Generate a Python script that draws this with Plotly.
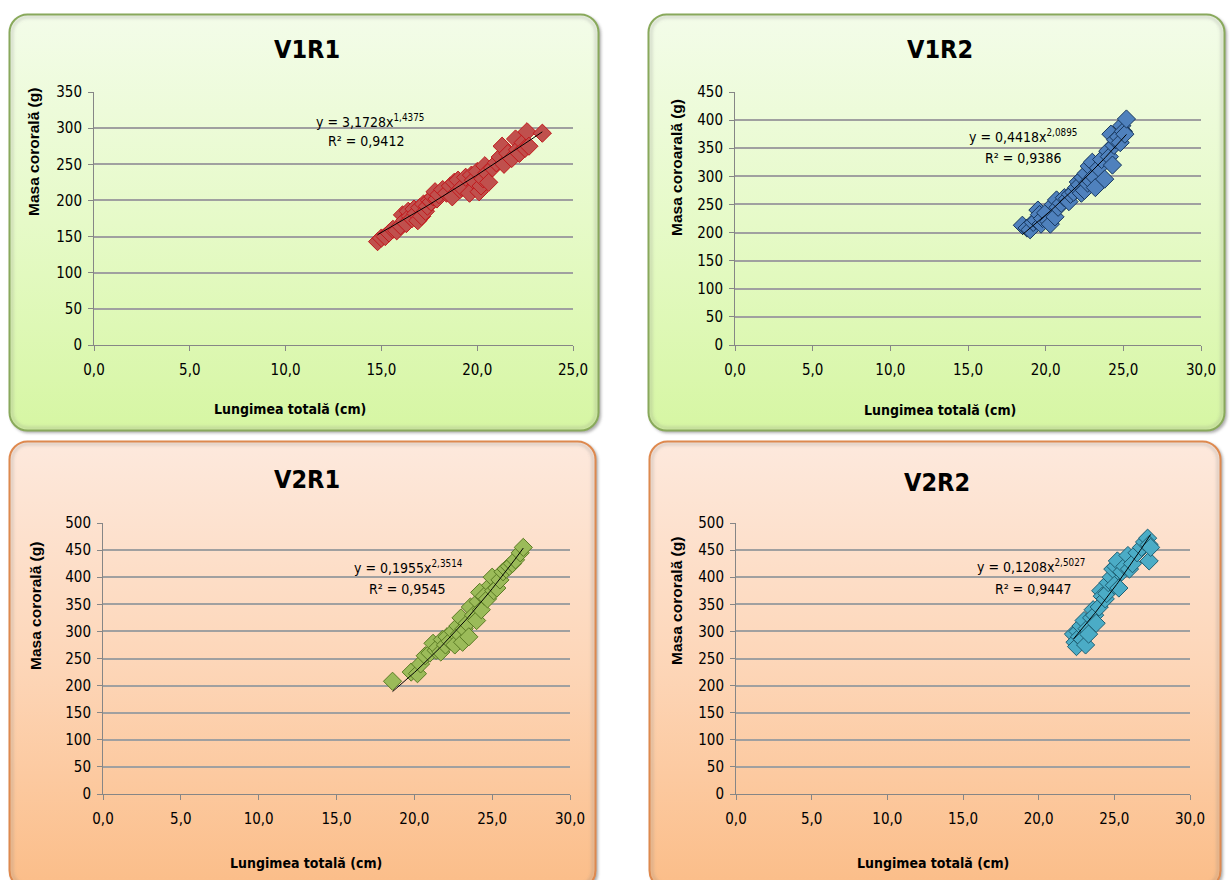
import base64
import numpy as np
import plotly.graph_objects as go

W, H = 1231, 880

# ---------------- data ----------------
titles = ["V1R1", "V1R2", "V2R1", "V2R2"]
ytitles = ["Masa cororală (g)", "Masa coroarală (g)", "Masa cororală (g)", "Masa cororală (g)"]
xtitle = "Lungimea totală (cm)"

v1r1_x = [14.8, 15.0, 15.2, 15.4, 15.6, 15.8, 16.0, 16.1, 16.2, 16.3, 16.4, 16.5, 16.6, 16.7, 16.8,
          16.9, 17.0, 17.1, 17.2, 17.3, 17.4, 17.5, 17.6, 17.7, 17.8, 17.9, 18.0, 18.2, 18.4, 18.6,
          18.7, 18.8, 19.0, 19.1, 19.2, 19.4, 19.6, 19.7, 19.8, 20.0, 20.1, 20.2, 20.3, 20.4, 20.5,
          20.6, 20.8, 21.0, 21.2, 21.3, 21.4, 21.6, 21.8, 22.0, 22.1, 22.2, 22.4, 22.5, 22.6, 22.7, 23.4]
v1r1_y = [143, 148, 150, 155, 160, 158, 165, 180, 172, 168, 185, 178, 175, 188, 182,
          172, 190, 178, 195, 185, 192, 200, 198, 205, 212, 202, 208, 215, 210, 220,
          205, 225, 228, 215, 218, 232, 210, 235, 228, 240, 212, 220, 230, 248, 238,
          225, 245, 252, 260, 275, 250, 265, 258, 285, 270, 265, 280, 272, 295, 275, 293]

v1r2_x = [18.5, 18.8, 19.0, 19.2, 19.4, 19.5, 19.6, 19.7, 19.8, 20.0, 20.2, 20.3, 20.5, 20.6, 20.7,
          20.8, 21.0, 21.2, 21.4, 21.5, 21.6, 21.8, 22.0, 22.1, 22.2, 22.3, 22.4, 22.5, 22.6, 22.7,
          22.8, 22.9, 23.0, 23.1, 23.2, 23.4, 23.6, 23.8, 24.0, 24.1, 24.2, 24.3, 24.4, 24.5, 24.7,
          24.8, 24.9, 25.0, 25.1, 25.2]
v1r2_y = [213, 208, 205, 218, 222, 240, 232, 215, 225, 235, 220, 215, 250, 228, 258,
          245, 252, 262, 260, 255, 268, 272, 280, 290, 285, 270, 298, 275, 305, 288,
          318, 292, 325, 300, 280, 315, 330, 295, 345, 335, 375, 320, 355, 365, 370,
          360, 390, 380, 375, 402]

v2r1_x = [18.6, 19.8, 20.2, 20.4, 20.7, 21.0, 21.2, 21.4, 21.5, 21.7, 21.8, 22.0, 22.1, 22.3, 22.5,
          22.6, 22.8, 22.9, 23.0, 23.1, 23.2, 23.4, 23.5, 23.6, 23.8, 24.0, 24.1, 24.2, 24.3, 24.5,
          24.7, 24.9, 25.0, 25.1, 25.3, 25.5, 25.7, 25.9, 26.1, 26.3, 26.5, 26.8, 27.0]
v2r1_y = [208, 225, 222, 240, 255, 260, 278, 265, 270, 262, 285, 275, 290, 282, 300,
          275, 310, 295, 325, 280, 305, 315, 290, 345, 330, 320, 355, 372, 340, 365,
          360, 385, 400, 375, 380, 395, 410, 415, 420, 425, 432, 445, 455]

v2r2_x = [22.3, 22.4, 22.5, 22.6, 22.7, 22.8, 22.9, 23.0, 23.1, 23.2, 23.3, 23.5, 23.6, 23.7, 23.8,
          24.0, 24.1, 24.2, 24.4, 24.5, 24.6, 24.8, 24.9, 25.0, 25.1, 25.2, 25.3, 25.5, 25.7, 25.9,
          26.0, 26.2, 26.5, 26.8, 27.0, 27.2, 27.3, 27.3, 27.4]
v2r2_y = [295, 280, 272, 300, 290, 310, 285, 320, 275, 305, 295, 325, 340, 330, 315,
          345, 375, 365, 360, 370, 390, 400, 415, 385, 420, 430, 380, 410, 420, 440,
          415, 425, 445, 455, 465, 472, 460, 430, 455]

# power trendline coefficients shown on the chart: y = a * x^b
coef_a = [3.1728, 0.4418, 0.1955, 0.1208]
coef_b = [1.4375, 2.0895, 2.3514, 2.5027]
eq_text = ["y = 3,1728x<sup>1,4375</sup>", "y = 0,4418x<sup>2,0895</sup>",
           "y = 0,1955x<sup>2,3514</sup>", "y = 0,1208x<sup>2,5027</sup>"]
r2_text = ["R² = 0,9412", "R² = 0,9386", "R² = 0,9545", "R² = 0,9447"]

x_max = [25, 30, 30, 30]
y_max = [350, 450, 500, 500]
xtick_vals = [[0, 5, 10, 15, 20, 25], [0, 5, 10, 15, 20, 25, 30], [0, 5, 10, 15, 20, 25, 30], [0, 5, 10, 15, 20, 25, 30]]
xtick_text = [["0,0", "5,0", "10,0", "15,0", "20,0", "25,0"]] + [["0,0", "5,0", "10,0", "15,0", "20,0", "25,0", "30,0"]] * 3

series_x = [v1r1_x, v1r2_x, v2r1_x, v2r2_x]
series_y = [v1r1_y, v1r2_y, v2r1_y, v2r2_y]

# ---------------- styling ----------------
fill_c = ["#c0504d", "#4f81bd", "#9bbb59", "#4bacc6"]
line_c = ["#c0181c", "#17375e", "#5a7a24", "#1f5f73"]

NARROW = "DejaVu Sans Condensed, Liberation Sans, sans-serif"
BOLDW = "Liberation Sans, Arial, sans-serif"

# plot areas in pixels: (left, right, top, bottom)
areas = [(94, 573, 92, 345), (735, 1201, 92, 345), (103, 570, 523, 794), (736, 1190, 523, 794)]
title_pos = [(307, 50), (940, 50), (307, 480), (937, 482)]
ytitle_pos = [(33, 152), (677, 167), (35, 606), (676, 601)]
xtitle_pos = [(290, 409), (940, 410), (306, 863), (933, 863)]
eq_pos = [(370, 121), (1023, 136), (408, 567), (1031, 566)]
r2_pos = [(366, 141), (1023, 158), (407, 589), (1033, 589)]

# panels: (left, top, width, height, kind)
panels = [(8, 13, 592, 419, "g"), (647, 13, 579, 419, "g"), (8, 440, 589, 450, "o"), (648, 440, 574, 450, "o")]
pal = {"g": ("#f3fce9", "#e6fac8", "#d6f6a3", "#8aac5a"),
       "o": ("#fde9dd", "#fdd6b8", "#fbbd88", "#e48a4c")}


def panel_svg(w, h, kind):
    top, mid, bot, stroke = pal[kind]
    svg = f'''<svg xmlns="http://www.w3.org/2000/svg" width="{w+6}" height="{h+6}" viewBox="0 0 {w+6} {h+6}">
<defs>
<linearGradient id="g" x1="0" y1="0" x2="0" y2="1">
<stop offset="0" stop-color="{top}"/><stop offset="0.5" stop-color="{mid}"/><stop offset="1" stop-color="{bot}"/>
</linearGradient>
<filter id="s" x="-5%" y="-5%" width="110%" height="110%"><feGaussianBlur stdDeviation="1.6"/></filter>
</defs>
<rect x="3" y="3" width="{w-2}" height="{h-2}" rx="18" fill="#6b6b6b" opacity="0.55" filter="url(#s)"/>
<rect x="1.5" y="1.5" width="{w-3}" height="{h-3}" rx="18" fill="url(#g)" stroke="{stroke}" stroke-width="2"/>
<rect x="4" y="4" width="{w-8}" height="{h-8}" rx="16" fill="none" stroke="#777" stroke-opacity="0.25" stroke-width="3" filter="url(#s)"/>
</svg>'''
    return "data:image/svg+xml;base64," + base64.b64encode(svg.encode()).decode()


fig = go.Figure()
layout = dict(width=W, height=H, margin=dict(l=0, r=0, t=0, b=0, pad=0, autoexpand=False),
              paper_bgcolor="white", plot_bgcolor="white", showlegend=False,
              images=[], annotations=[])

for i in range(4):
    sfx = "" if i == 0 else str(i + 1)
    xa, ya = "x" + sfx, "y" + sfx
    l, r, t, b = areas[i]
    xs = np.array(series_x[i], dtype=float)
    ys = np.array(series_y[i], dtype=float)

    # trendline from the chart's stated coefficients
    tx = np.linspace(xs.min(), xs.max(), 60)
    ty = coef_a[i] * tx ** coef_b[i]

    fig.add_trace(go.Scatter(x=xs, y=ys, mode="markers", xaxis=xa, yaxis=ya,
                             marker=dict(symbol="diamond", size=14, color=fill_c[i],
                                         line=dict(color=line_c[i], width=1)),
                             hoverinfo="x+y"))
    fig.add_trace(go.Scatter(x=tx, y=ty, mode="lines", xaxis=xa, yaxis=ya,
                             line=dict(color="black", width=1), hoverinfo="skip"))

    axis_common = dict(showline=True, linecolor="#868686", linewidth=1, ticks="outside",
                       ticklen=5, tickcolor="#868686", zeroline=False, automargin=False,
                       tickfont=dict(family=NARROW, size=15, color="#000"))
    layout["xaxis" + sfx] = dict(axis_common, domain=[l / W, r / W], anchor=ya,
                                 range=[0, x_max[i]], tickvals=xtick_vals[i], ticktext=xtick_text[i],
                                 showgrid=False, ticklabelstandoff=6)
    layout["yaxis" + sfx] = dict(axis_common, domain=[1 - b / H, 1 - t / H], anchor=xa,
                                 range=[0, y_max[i]], dtick=50, showgrid=True,
                                 gridcolor="#a0a0a0", gridwidth=1.5, ticklabelstandoff=3)

    px, py, pw, ph, kind = panels[i]
    layout["images"].append(dict(source=panel_svg(pw, ph, kind), xref="paper", yref="paper",
                                 x=px / W, y=1 - py / H, sizex=(pw + 6) / W, sizey=(ph + 6) / H,
                                 xanchor="left", yanchor="top", sizing="stretch", layer="below"))

    def ann(text, pos, font, **kw):
        d = dict(text=text, x=pos[0] / W, y=1 - pos[1] / H, xref="paper", yref="paper",
                 showarrow=False, xanchor="center", yanchor="middle", font=font)
        d.update(kw)
        layout["annotations"].append(d)

    ann(f"<b>{titles[i]}</b>", title_pos[i], dict(family=NARROW, size=25, color="#000"))
    ann(f"<b>{ytitles[i]}</b>", ytitle_pos[i], dict(family=BOLDW, size=15.5, color="#000"), textangle=-90)
    ann(f"<b>{xtitle}</b>", xtitle_pos[i], dict(family=NARROW, size=14, color="#000"))
    ann(eq_text[i], eq_pos[i], dict(family=NARROW, size=14, color="#000"))
    ann(r2_text[i], r2_pos[i], dict(family=NARROW, size=14, color="#000"))

fig.update_layout(**layout)
fig.write_html("out.html")
